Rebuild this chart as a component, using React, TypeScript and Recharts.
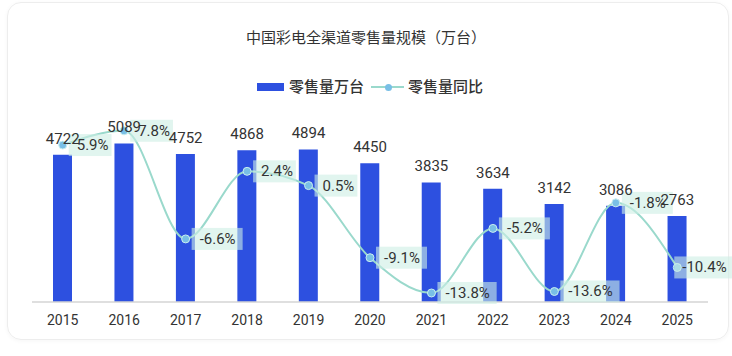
import { Bar, ComposedChart, LabelList, Line, XAxis, YAxis } from "recharts";

const years = ["2015", "2016", "2017", "2018", "2019", "2020", "2021", "2022", "2023", "2024", "2025"];
const sales = [4722, 5089, 4752, 4868, 4894, 4450, 3835, 3634, 3142, 3086, 2763];
const yoy = [5.9, 7.8, -6.6, 2.4, 0.5, -9.1, -13.8, -5.2, -13.6, -1.8, -10.4];

const data = years.map((year, i) => ({ year, sales: sales[i], yoy: yoy[i] }));

const FONT = "Roboto, 'Noto Sans CJK SC', sans-serif";
const BLUE = "#2d50e0";
const TEAL = "#9ad9cc";
const DOT = "#79bfe6";

function YoyLabel(props: any) {
  const { x, y, value, index } = props;
  if (x == null || y == null) return null;
  const text = `${value}%`;
  // last label sits almost on its point, as in the source
  const dx = index === years.length - 1 ? 5 : 14;
  const w = text.length * 8.2 + 10;
  return (
    <g>
      <rect x={x + dx - 8} y={y - 11} width={w} height={22} fill="#cdeee5" opacity={0.6} />
      <text x={x + dx} y={y} dominantBaseline="central" fontSize={15} fill="#333" fontFamily={FONT}>
        {text}
      </text>
    </g>
  );
}

export default function App() {
  return (
    <div style={{ position: "absolute", left: 0, top: 0, width: 732, height: 356, background: "#fff", fontFamily: FONT }}>
      <div
        style={{
          position: "absolute",
          left: 7,
          top: 2,
          width: 720,
          height: 336,
          border: "1px solid #ededed",
          borderRadius: 14,
          boxShadow: "0 1px 4px rgba(0,0,0,0.04)",
        }}
      />
      <div
        style={{
          position: "absolute",
          left: 0,
          width: 732,
          top: 28,
          textAlign: "center",
          fontSize: 15,
          color: "#333",
          lineHeight: "20px",
        }}
      >
        中国彩电全渠道零售量规模（万台）
      </div>
      <div style={{ position: "absolute", left: 257, top: 83, width: 27, height: 8, background: BLUE }} />
      <div style={{ position: "absolute", left: 289, top: 77, fontSize: 15, fontWeight: 500, color: "#333", lineHeight: "20px" }}>
        零售量万台
      </div>
      <div style={{ position: "absolute", left: 371, top: 86, width: 33, height: 2, background: TEAL }} />
      <div style={{ position: "absolute", left: 385, top: 84, width: 7, height: 7, borderRadius: 4, background: DOT }} />
      <div style={{ position: "absolute", left: 408, top: 77, fontSize: 15, fontWeight: 500, color: "#333", lineHeight: "20px" }}>
        零售量同比
      </div>
      <div style={{ position: "absolute", left: 0, top: 0 }}>
        <ComposedChart width={732} height={356} data={data} margin={{ top: 115, right: 24, left: 32, bottom: 24 }}>
          <XAxis
            dataKey="year"
            height={30}
            axisLine={{ stroke: "#d4d4d4", strokeWidth: 1.5 }}
            tickLine={false}
            tickMargin={7}
            tick={{ fontSize: 14, fill: "#333", fontFamily: FONT }}
            interval={0}
          />
          <YAxis yAxisId="left" hide domain={[0, 6000]} />
          <YAxis yAxisId="right" hide orientation="right" domain={[-15, 9.9]} />
          <Bar yAxisId="left" dataKey="sales" fill={BLUE} barSize={19} isAnimationActive={false} />
          <Line
            yAxisId="right"
            type="monotone"
            dataKey="yoy"
            stroke={TEAL}
            strokeWidth={2}
            dot={{ r: 4, fill: DOT, stroke: "#c9eef0", strokeWidth: 1 }}
            isAnimationActive={false}
          >
            <LabelList dataKey="yoy" content={<YoyLabel />} />
          </Line>
          {/* bar value labels, drawn last so they stay on top of the yoy boxes */}
          <Line
            yAxisId="left"
            dataKey="sales"
            stroke="none"
            dot={false}
            activeDot={false}
            legendType="none"
            isAnimationActive={false}
          >
            <LabelList dataKey="sales" position="top" offset={11} fill="#333" fontSize={15} fontFamily={FONT} />
          </Line>
        </ComposedChart>
      </div>
    </div>
  );
}
